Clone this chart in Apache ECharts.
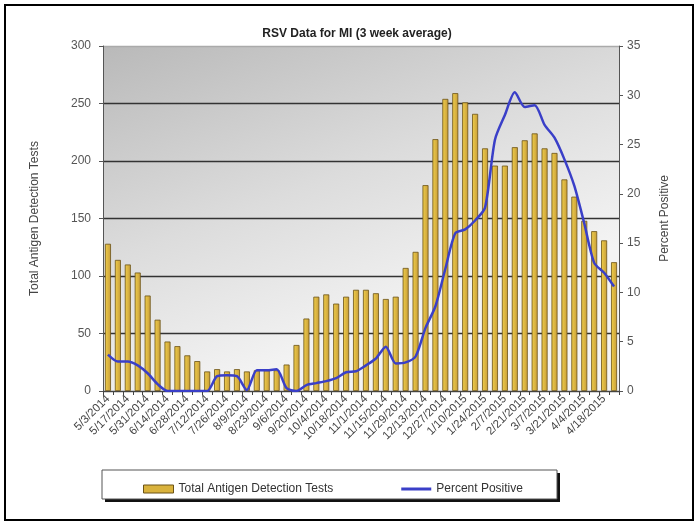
<!DOCTYPE html>
<html>
<head>
<meta charset="utf-8">
<style>
  html, body { margin: 0; padding: 0; background: #ffffff; }
  #chart { width: 698px; height: 527px; }
</style>
<script src="https://cdn.jsdelivr.net/npm/echarts@6/dist/echarts.min.js"></script>
</head>
<body>
<div id="chart"></div>
<script>
// Weekly reporting dates (week ending), May 2014 – April 2015
const weeks = [
  '5/3/2014','5/10/2014','5/17/2014','5/24/2014','5/31/2014','6/7/2014','6/14/2014','6/21/2014',
  '6/28/2014','7/5/2014','7/12/2014','7/19/2014','7/26/2014','8/2/2014','8/9/2014','8/16/2014',
  '8/23/2014','8/30/2014','9/6/2014','9/13/2014','9/20/2014','9/27/2014','10/4/2014','10/11/2014',
  '10/18/2014','10/25/2014','11/1/2014','11/8/2014','11/15/2014','11/22/2014','11/29/2014','12/6/2014',
  '12/13/2014','12/20/2014','12/27/2014','1/3/2015','1/10/2015','1/17/2015','1/24/2015','1/31/2015',
  '2/7/2015','2/14/2015','2/21/2015','2/28/2015','3/7/2015','3/14/2015','3/21/2015','3/28/2015',
  '4/4/2015','4/11/2015','4/18/2015','4/25/2015'
];

// Total antigen detection tests (3 week average)
const totalTests = [
  128, 114, 110, 103, 83, 62, 43, 39, 31, 26, 17, 19, 17, 19, 17, 18,
  18, 18, 23, 40, 63, 82, 84, 76, 82, 88, 88, 85, 80, 82, 107, 121,
  179, 219, 254, 259, 251, 241, 211, 196, 196, 212, 218, 224, 211, 207,
  184, 169, 148, 139, 131, 112
];

// Percent positive (3 week average)
const percentPositive = [
  3.7, 3.0, 3.0, 2.6, 1.8, 0.7, 0, 0, 0, 0, 0, 1.5, 1.6, 1.5, 0.1, 2.1,
  2.1, 2.2, 0.3, 0, 0.6, 0.8, 1.0, 1.3, 1.9, 2.0, 2.6, 3.3, 4.5, 2.8, 2.9, 3.5,
  6.4, 8.6, 12.4, 16.0, 16.4, 17.3, 18.6, 25.5, 28.0, 30.3, 28.8, 29.0, 27.0, 25.7,
  23.5, 20.8, 17.0, 13.0, 12.0, 10.6
];

const leftTicks = { min: 0, max: 300, interval: 50 };
const rightTicks = { min: 0, max: 35, interval: 5 };

const FONT = 'Liberation Sans';
const chart = echarts.init(document.getElementById('chart'), null, { renderer: 'canvas' });

chart.setOption({
  backgroundColor: '#ffffff',
  animation: false,
  title: {
    text: 'RSV Data for MI (3 week average)',
    left: 352, top: 23, textAlign: 'center',
    textStyle: { fontFamily: FONT, fontSize: 12, fontWeight: 'bold', color: '#222' }
  },
  graphic: [
    // outer frame
    { type: 'rect', shape: { x: 5, y: 5, width: 688, height: 515 },
      style: { fill: 'none', stroke: '#000', lineWidth: 2 }, z: 100 },
    // legend box shadow + box
    { type: 'rect', shape: { x: 105, y: 473, width: 455, height: 29 },
      style: { fill: '#111' }, z: -1 },
    { type: 'rect', shape: { x: 102, y: 470, width: 455, height: 29 },
      style: { fill: '#fff', stroke: '#555', lineWidth: 1 }, z: 0 }
  ],
  legend: {
    left: 138, top: 478, itemGap: 68, itemWidth: 30, itemHeight: 8,
    textStyle: { fontFamily: FONT, fontSize: 12, color: '#333' },
    data: [
      { name: 'Total Antigen Detection Tests', icon: 'rect',
        itemStyle: { color: '#d9b23c', borderColor: '#6b5316', borderWidth: 1 } },
      { name: 'Percent Positive', icon: 'path://M0,0 L30,0 L30,3 L0,3 Z',
        itemStyle: { color: '#3a3fc8' } }
    ]
  },
  grid: {
    left: 103, right: 79, top: 46, bottom: 136,
    show: true, borderWidth: 0,
    backgroundColor: new echarts.graphic.LinearGradient(0, 0, 0.25, 1, [
      { offset: 0, color: '#b9b9b9' },
      { offset: 0.55, color: '#dcdcdc' },
      { offset: 1, color: '#f4f4f4' }
    ])
  },
  xAxis: {
    type: 'category', data: weeks, boundaryGap: true,
    axisLine: { lineStyle: { color: '#444', width: 1 } },
    axisTick: { show: true, interval: 0, length: 4, lineStyle: { color: '#444' } },
    axisLabel: {
      interval: 1, rotate: 45, fontFamily: FONT, fontSize: 11.5, color: '#444', margin: 6
    }
  },
  yAxis: [
    {
      type: 'value', min: leftTicks.min, max: leftTicks.max, interval: leftTicks.interval,
      name: 'Total Antigen Detection Tests', nameLocation: 'middle', nameGap: 62, nameRotate: 90,
      nameTextStyle: { fontFamily: FONT, fontSize: 12, color: '#444' },
      axisLine: { show: true, lineStyle: { color: '#555', width: 1 } },
      axisTick: { show: true, length: 4, lineStyle: { color: '#555' } },
      axisLabel: { fontFamily: FONT, fontSize: 12, color: '#555', margin: 12 },
      splitLine: { show: true, lineStyle: {
        color: ['#555', '#333', '#333', '#333', '#333', '#333', '#aaaaaa'], width: 1.3 } }
    },
    {
      type: 'value', min: rightTicks.min, max: rightTicks.max, interval: rightTicks.interval,
      position: 'right',
      name: 'Percent Positive', nameLocation: 'middle', nameGap: 40, nameRotate: 90,
      nameTextStyle: { fontFamily: FONT, fontSize: 12, color: '#444' },
      axisLine: { show: true, lineStyle: { color: '#555', width: 1 } },
      axisTick: { show: true, length: 4, inside: false, lineStyle: { color: '#555' } },
      axisLabel: { fontFamily: FONT, fontSize: 12, color: '#555', margin: 8 },
      splitLine: { show: false }
    }
  ],
  series: [
    {
      name: 'Total Antigen Detection Tests',
      type: 'bar', yAxisIndex: 0, data: totalTests,
      barWidth: 6,
      itemStyle: {
        color: new echarts.graphic.LinearGradient(0, 0, 1, 0, [
          { offset: 0, color: '#f0cf4a' },
          { offset: 1, color: '#c79c3a' }
        ]),
        borderColor: '#6b5316', borderWidth: 0.8
      }
    },
    {
      name: 'Percent Positive',
      type: 'line', yAxisIndex: 1, data: percentPositive,
      symbol: 'none', smooth: 0.25,
      lineStyle: { color: '#3a3fc8', width: 2.5 },
      itemStyle: { color: '#3a3fc8' }
    }
  ]
});
</script>
</body>
</html>
